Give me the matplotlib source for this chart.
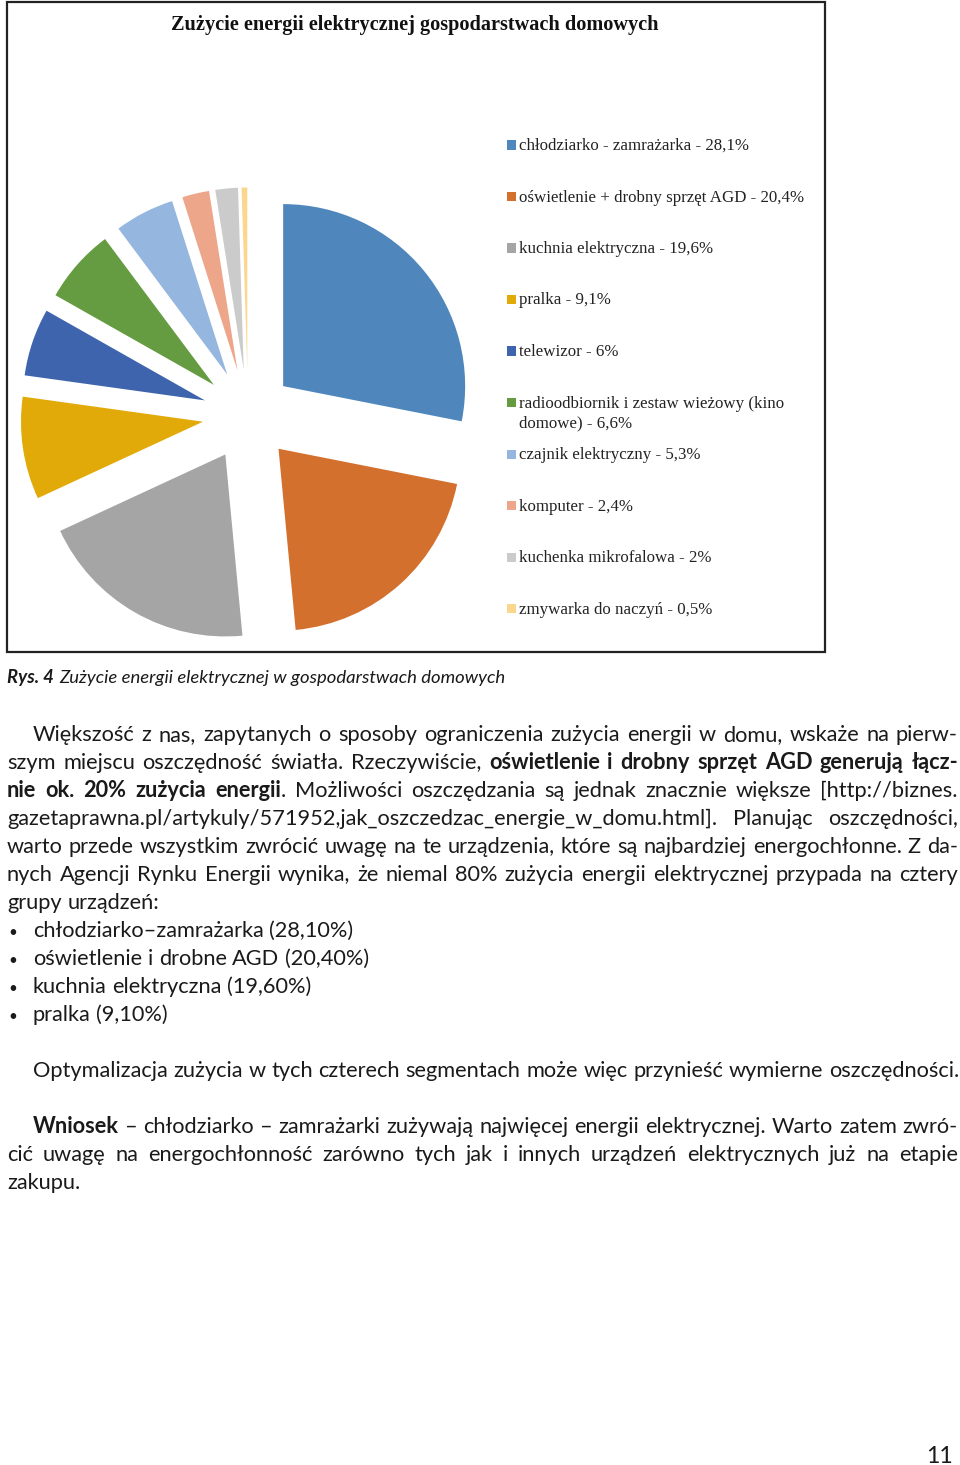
import matplotlib
matplotlib.use("Agg")
import matplotlib.pyplot as plt
from matplotlib.patches import Rectangle

# ---------------- data ----------------
chart_title = "Zużycie energii elektrycznej gospodarstwach domowych"
categories = [
    "chłodziarko - zamrażarka",
    "oświetlenie + drobny sprzęt AGD",
    "kuchnia elektryczna",
    "pralka",
    "telewizor",
    "radioodbiornik i zestaw wieżowy (kino\ndomowe)",
    "czajnik elektryczny",
    "komputer",
    "kuchenka mikrofalowa",
    "zmywarka do naczyń",
]
values = [28.1, 20.4, 19.6, 9.1, 6.0, 6.6, 5.3, 2.4, 2.0, 0.5]
colors = ["#4F87BD", "#D3702E", "#A5A5A5", "#E2AA08", "#3D64AD",
          "#669C41", "#95B6DE", "#EEA68B", "#CBCBCB", "#FBD68D"]

caption_bold = "Rys. 4"
caption_text = "Zużycie energii elektrycznej w gospodarstwach domowych"

para1_lines = [
    "Większość z nas, zapytanych o sposoby ograniczenia zużycia energii w domu, wskaże na pierw-",
    "szym miejscu oszczędność światła. Rzeczywiście, **oświetlenie i drobny sprzęt AGD generują łącz-**",
    "**nie ok. 20% zużycia energii**. Możliwości oszczędzania są jednak znacznie większe [http://biznes.",
    "gazetaprawna.pl/artykuly/571952,jak_oszczedzac_energie_w_domu.html]. Planując oszczędności,",
    "warto przede wszystkim zwrócić uwagę na te urządzenia, które są najbardziej energochłonne. Z da-",
    "nych Agencji Rynku Energii wynika, że niemal 80% zużycia energii elektrycznej przypada na cztery",
    "grupy urządzeń:",
]
bullets = [
    "chłodziarko–zamrażarka (28,10%)",
    "oświetlenie i drobne AGD (20,40%)",
    "kuchnia elektryczna (19,60%)",
    "pralka (9,10%)",
]
para2_lines = [
    "Optymalizacja zużycia w tych czterech segmentach może więc przynieść wymierne oszczędności.",
]
para3_lines = [
    "**Wniosek** – chłodziarko – zamrażarki zużywają najwięcej energii elektrycznej. Warto zatem zwró-",
    "cić uwagę na energochłonność zarówno tych jak i innych urządzeń elektrycznych już na etapie",
    "zakupu.",
]
page_number = "11"

# ---------------- figure ----------------
W, H = 960, 1465
fig = plt.figure(figsize=(W / 100, H / 100), dpi=100)
fig.patch.set_facecolor("white")
renderer = fig.canvas.get_renderer()


def fx(x):
    return x / W


def fy(y):
    return 1 - y / H


BODY_FONT = ["Lato", "DejaVu Sans"]
TEXT_COLOR = "#1a1a1a"


def measure(s, size, bold=False, italic=False, family=BODY_FONT):
    t = fig.text(0, 0, s, fontsize=size, family=family,
                 weight="bold" if bold else "normal",
                 style="italic" if italic else "normal")
    w = t.get_window_extent(renderer).width
    t.remove()
    return w


def parse(line):
    parts = line.split("**")
    words = [[]]
    for i, p in enumerate(parts):
        bold = i % 2 == 1
        chunks = p.split(" ")
        for j, c in enumerate(chunks):
            if j > 0:
                words.append([])
            if c:
                words[-1].append((c, bold))
    return [w for w in words if w]


def natural_width(line, size):
    words = parse(line)
    sp = measure("a a", size) - measure("aa", size)
    return sum(measure(t, size, b) for w in words for t, b in w) + sp * (len(words) - 1)


# body size: compromise between the unjustified reference line and
# the justified lines filling their measure with natural spacing
s_a = 10 * (943 - 33) / natural_width(para2_lines[0], 10)
s_b = 10 * (958 - 7) / natural_width(para1_lines[5], 10)
BODY_SIZE = 0.5 * (s_a + s_b)
SPACE = measure("a a", BODY_SIZE) - measure("aa", BODY_SIZE)


def draw_line(line, x0, x1, base, justify, size=None):
    size = size or BODY_SIZE
    words = parse(line)
    widths = [[measure(t, size, b) for t, b in w] for w in words]
    total = sum(sum(ws) for ws in widths)
    if justify and len(words) > 1:
        gap = (x1 - x0 - total) / (len(words) - 1)
    else:
        gap = SPACE
    x = x0
    for w, ws in zip(words, widths):
        for (t, b), wi in zip(w, ws):
            fig.text(fx(x), fy(base), t, fontsize=size, family=BODY_FONT,
                     weight="bold" if b else "normal", va="baseline",
                     ha="left", color=TEXT_COLOR)
            x += wi
        x += gap


# ---------------- chart frame ----------------
fig.add_artist(Rectangle((fx(7), fy(652)), fx(825) - fx(7), fy(2) - fy(652),
                         transform=fig.transFigure, fill=False,
                         edgecolor="#222222", linewidth=1.6))
fig.text(fx(415), fy(25), chart_title, ha="center", va="center",
         family=["Liberation Serif"], weight="bold", fontsize=14.6,
         color="#111111")

# pie axes: center (248, 415) px, radius 182 px
R = 182
cx, cy = 248, 415
lim = 1.3
ax = fig.add_axes([fx(cx - lim * R), fy(cy + lim * R), 2 * lim * R / W, 2 * lim * R / H])
ax.pie(values, colors=colors, startangle=90, counterclock=False,
       explode=[0.25] * len(values), radius=1,
       wedgeprops=dict(linewidth=0))
ax.set_xlim(-lim, lim)
ax.set_ylim(-lim, lim)
ax.set_aspect("equal")
ax.axis("off")

# legend
for i, (cat, v, c) in enumerate(zip(categories, values, colors)):
    yc = 145 + 51.5 * i
    label = f"{cat} - {v:g}%".replace(".", ",")
    fig.add_artist(Rectangle((fx(507), fy(yc + 4.5)), 9 / W, 9 / H,
                             transform=fig.transFigure, facecolor=c,
                             edgecolor="none"))
    for k, part in enumerate(label.split("\n")):
        fig.text(fx(519), fy(yc + 5 + 20 * k), part, ha="left", va="baseline",
                 family=["Liberation Serif"], fontsize=12.2, color="#222222")

# ---------------- caption ----------------
cap_size = 13.3
wb = measure(caption_bold, cap_size, bold=True, italic=True)
fig.text(fx(7), fy(683), caption_bold, family=BODY_FONT, fontsize=cap_size,
         weight="bold", style="italic", va="baseline", ha="left", color=TEXT_COLOR)
fig.text(fx(7 + wb + 5), fy(683), caption_text, family=BODY_FONT, fontsize=cap_size,
         style="italic", va="baseline", ha="left", color=TEXT_COLOR)

# ---------------- body text ----------------
LEFT, RIGHT, INDENT = 7, 958, 33
LS = 28
base = 741
for i, line in enumerate(para1_lines):
    x0 = INDENT if i == 0 else LEFT
    draw_line(line, x0, RIGHT, base, justify=(i < len(para1_lines) - 1))
    base += LS
for b in bullets:
    fig.text(fx(LEFT + 1), fy(base), "•", family=BODY_FONT, fontsize=BODY_SIZE * 0.7,
             va="baseline", ha="left", color=TEXT_COLOR)
    draw_line(b, INDENT, RIGHT, base, justify=False)
    base += LS
base += LS
for line in para2_lines:
    draw_line(line, INDENT, RIGHT, base, justify=False)
    base += LS
base += LS
for i, line in enumerate(para3_lines):
    x0 = INDENT if i == 0 else LEFT
    draw_line(line, x0, RIGHT, base, justify=(i < len(para3_lines) - 1))
    base += LS

fig.text(fx(953), fy(1463), page_number, family=BODY_FONT, fontsize=BODY_SIZE + 1,
         va="baseline", ha="right", color=TEXT_COLOR)

fig.savefig("out.png", dpi=100, facecolor="white")
